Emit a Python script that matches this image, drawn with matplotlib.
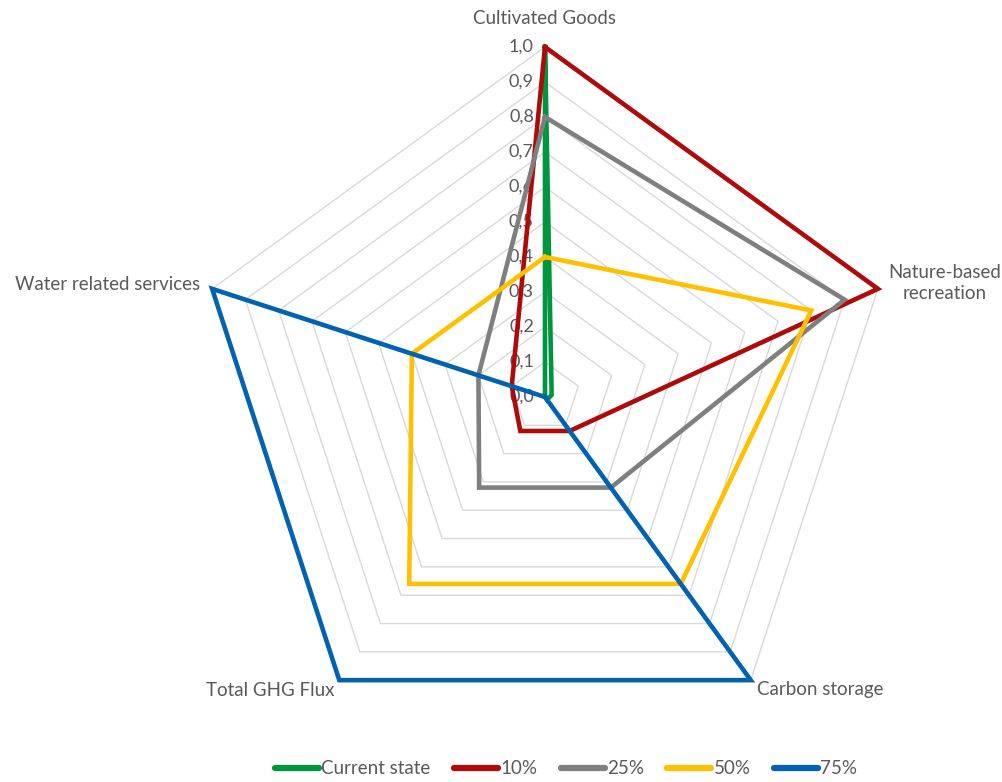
import numpy as np
import matplotlib
matplotlib.use("Agg")
import matplotlib.pyplot as plt
from matplotlib.lines import Line2D

categories = ["Cultivated Goods", "Nature-based\nrecreation", "Carbon storage",
              "Total GHG Flux", "Water related services"]
series_names = ["Current state", "10%", "25%", "50%", "75%"]
current_state = [1.0, 0.02, 0.01, 0.0, 0.0]
p10 = [1.0, 1.0, 0.12, 0.12, 0.10]
p25 = [0.8, 0.9, 0.32, 0.32, 0.20]
p50 = [0.4, 0.8, 0.66, 0.66, 0.40]
p75 = [0.0, 0.0, 1.0, 1.0, 1.0]
tick_values = [0.0, 0.1, 0.2, 0.3, 0.4, 0.5, 0.6, 0.7, 0.8, 0.9, 1.0]
tick_labels = ["0,0", "0,1", "0,2", "0,3", "0,4", "0,5", "0,6", "0,7", "0,8", "0,9", "1,0"]

colors = ["#00953F", "#AE0A0A", "#7F7F7F", "#FFC000", "#0062B1"]
series = [current_state, p10, p25, p50, p75]

plt.rcParams['font.family'] = ['Lato', 'DejaVu Sans']
txt_color = "#595959"

W, H = 1003, 782
fig = plt.figure(figsize=(W / 100, H / 100), dpi=100)
cx, cy, R = 545, 397, 350
ax = fig.add_axes([(cx - R) / W, (H - cy - R) / H, 2 * R / W, 2 * R / H], projection='polar')
ax.set_theta_offset(np.pi / 2)
ax.set_theta_direction(-1)
ax.set_ylim(0, 1)
ax.grid(False)
ax.spines['polar'].set_visible(False)
ax.set_xticks([])
ax.set_yticks([])
ax.patch.set_alpha(0)

n = len(categories)
angles = np.linspace(0, 2 * np.pi, n, endpoint=False)
closed = np.concatenate([angles, angles[:1]])

# pentagon grid rings
for v in tick_values[1:]:
    ax.plot(closed, [v] * (n + 1), color="#D9D9D9", lw=1.0, zorder=1, clip_on=False)

# series
for vals, c, name in zip(series, colors, series_names):
    ax.plot(closed, list(vals) + [vals[0]], color=c, lw=3.3, zorder=3,
            solid_joinstyle='miter', clip_on=False, label=name)

# tick labels along the top axis
for v, lab in zip(tick_values, tick_labels):
    ax.annotate(lab, xy=(0, v), xytext=(-8, 0), textcoords='offset points',
                ha='right', va='center', fontsize=13, color=txt_color, zorder=2)

# category labels (pixel positions measured on figure)
label_pos = [(545, 18, 'center'), (945, 283, 'center'), (757, 690, 'left'),
             (335, 690, 'right'), (200, 285, 'right')]
for cat, (x, y, ha) in zip(categories, label_pos):
    fig.text(x / W, 1 - y / H, cat, ha=ha, va='center', fontsize=13.5,
             color=txt_color, linespacing=1.25)

handles = [Line2D([0], [0], color=c, lw=4.5, solid_capstyle='round') for c in colors]
leg = fig.legend(handles, series_names, loc='center', bbox_to_anchor=(0.5645, 1 - 769 / H),
                 ncol=5, frameon=False, fontsize=13.5, handlelength=2.35,
                 handletextpad=0.12, columnspacing=1.25)
for t in leg.get_texts():
    t.set_color(txt_color)

fig.savefig("out.png", dpi=100)
